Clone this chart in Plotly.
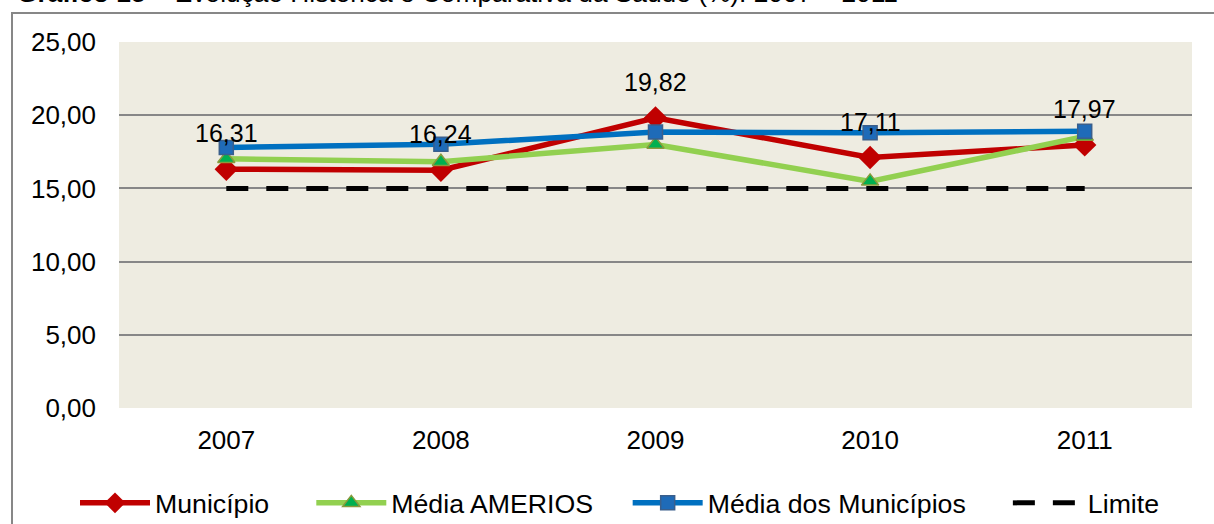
import plotly.graph_objects as go

# dados do gráfico
anos = ["2007", "2008", "2009", "2010", "2011"]
municipio = [16.31, 16.24, 19.82, 17.11, 17.97]
media_amerios = [17.02, 16.82, 18.00, 15.48, 18.55]
media_municipios = [17.79, 18.02, 18.85, 18.80, 18.90]
limite = [15.00, 15.00, 15.00, 15.00, 15.00]

FONTE = "Liberation Sans, Arial, sans-serif"
W, H = 1214, 524
L, R, T, B = 119, 22, 42, 116
PW, PH = W - L - R, H - T - B
NB = "\u00a0"


def px_x(p):
    return (p - L) / PW


def px_y(p):
    return 1 - (p - T) / PH


fig = go.Figure()

fig.add_trace(go.Scatter(
    x=anos, y=municipio, name="Município" + NB * 5, mode="lines+markers",
    line=dict(color="#C00000", width=5.5),
    marker=dict(symbol="diamond", size=18, color="#C00000"),
))
fig.add_trace(go.Scatter(
    x=anos, y=media_amerios, name="Média AMERIOS" + NB * 4, mode="lines+markers",
    line=dict(color="#92D050", width=5.5),
    marker=dict(symbol="triangle-up", size=15, color="#00B050",
                line=dict(color="#8A9A3C", width=1.5)),
))
fig.add_trace(go.Scatter(
    x=anos, y=media_municipios, name="Média dos Municípios" + NB * 5,
    mode="lines+markers",
    line=dict(color="#0070C0", width=5.5),
    marker=dict(symbol="square", size=14, color="#1F6BB8",
                line=dict(color="#3A5F8C", width=1.5)),
))
fig.add_trace(go.Scatter(
    x=anos, y=limite, name="Limite", mode="lines",
    line=dict(color="black", width=5, dash="22px,18px"),
))

# rótulos de dados do município
for i, v in enumerate(municipio):
    fig.add_annotation(
        x=i, y=v, text=f"{v:.2f}".replace(".", ","),
        showarrow=False, yshift=36,
        font=dict(size=25, color="black", family=FONTE),
    )

# título (cortado no topo)
fig.add_annotation(
    xref="paper", yref="paper", x=px_x(15), y=px_y(9.5),
    xanchor="left", yanchor="bottom", showarrow=False,
    text="<b>Gráfico 15</b> – Evolução Histórica e Comparativa da Saúde (%): 2007 – 2011",
    font=dict(size=26.3, color="black", family=FONTE),
)

# moldura externa
fig.add_shape(
    type="rect", xref="paper", yref="paper",
    x0=px_x(12), x1=px_x(W + 20), y0=px_y(H + 20), y1=px_y(13),
    line=dict(color="#878787", width=2), fillcolor="rgba(0,0,0,0)",
)

fig.update_layout(
    width=W, height=H,
    margin=dict(l=L, r=R, t=T, b=B, pad=0, autoexpand=False),
    paper_bgcolor="white", plot_bgcolor="#EEECE1",
    separators=",.",
    font=dict(family=FONTE, size=26, color="black"),
    showlegend=True,
    legend=dict(
        orientation="h", x=px_x(75), xanchor="left",
        y=px_y(503), yanchor="middle",
        itemwidth=70, font=dict(size=26.7),
        bgcolor="rgba(0,0,0,0)",
    ),
    xaxis=dict(
        type="category", range=[-0.5, 4.5],
        showgrid=False, zeroline=False, showline=False,
        ticks="", ticklabelstandoff=14, tickfont=dict(size=26),
    ),
    yaxis=dict(
        range=[0, 25], dtick=5, tickformat=".2f",
        showgrid=True, gridcolor="#878787", gridwidth=2,
        zeroline=False, showline=False, ticks="",
        ticklabelstandoff=22, tickfont=dict(size=26),
    ),
)

# sem a margem padrão do <body>, para o gráfico ocupar a janela toda
fig.write_html(
    "out.html",
    config={"displayModeBar": False},
    post_script="document.body.style.margin='0';",
)
